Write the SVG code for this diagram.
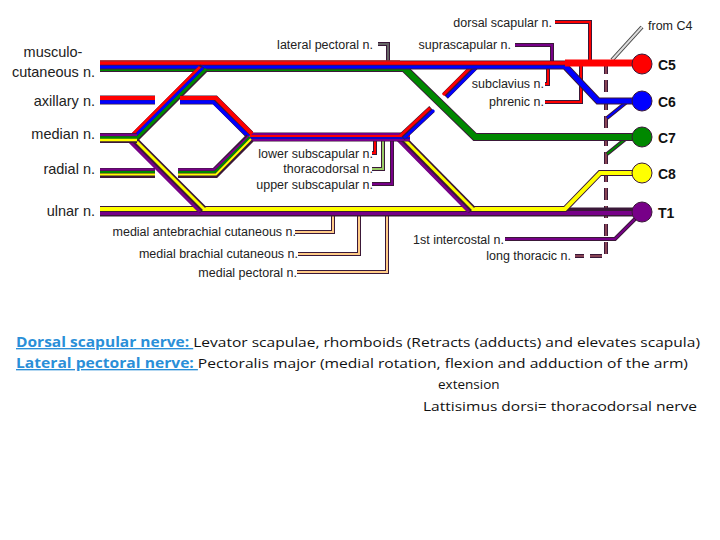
<svg xmlns="http://www.w3.org/2000/svg" width="720" height="540" viewBox="0 0 720 540">
<style>
.o{fill:none;stroke:#3a1838;stroke-linejoin:miter}
.s{fill:none;stroke-linejoin:miter}
.r{stroke:#f00}.b{stroke:#00f}.g{stroke:#080}.y{stroke:#ff0}.p{stroke:#708}
text{font-family:"Liberation Sans",Arial,sans-serif;fill:#222}
.lab{font-size:14.5px}
.sm{font-size:12.5px}
.root{font-size:14px;font-weight:bold;fill:#111}
.bt{font-family:"Open Sans","Liberation Sans",sans-serif;font-size:13.5px;fill:#111}
.bl{fill:#2a8fd8;font-weight:bold;text-decoration:underline}
</style>
<rect width="720" height="540" fill="#fff"/>
<g id="connectors">
<g stroke-width="4">
<path class="o" d="M590,62 V22 H555"/><path class="s r" stroke-width="2" d="M590,62 V22 H555"/>
<path class="o" d="M552,66 V45 H515"/><path class="s p" stroke-width="2" d="M552,66 V45 H515"/>
<path class="o" d="M548,66 V84 H545"/><path class="s r" stroke-width="2" d="M548,66 V84 H545"/>
<path class="o" d="M581,66 V102 H545"/><path class="s r" stroke-width="2" d="M581,66 V102 H545"/>
<path class="o" d="M388,62 V44 H378" stroke="#555"/><path class="s" stroke="#666" stroke-width="2" d="M388,62 V44 H378"/>
<path class="o" d="M375,140 V153 H372"/><path class="s r" stroke-width="2" d="M375,140 V153 H372"/>
<path class="o" d="M383,140 V169 H372"/><path class="s" stroke="#9c6" stroke-width="2" d="M383,140 V169 H372"/>
<path class="o" d="M392,140 V184 H372"/><path class="s p" stroke-width="2" d="M392,140 V184 H372"/>
<path class="o" d="M333,212 V232 H295"/><path class="s" stroke="#fc8" stroke-width="2" d="M333,212 V232 H295"/>
<path class="o" d="M359,212 V254 H298"/><path class="s" stroke="#fc8" stroke-width="2" d="M359,212 V254 H298"/>
<path class="o" d="M387,212 V272 H297"/><path class="s" stroke="#fc8" stroke-width="2" d="M387,212 V272 H297"/>
<path class="o" d="M642,212 L615,239 H505"/><path class="s p" stroke-width="2" d="M642,212 L615,239 H505"/>
<path class="o" d="M606,62 V256 H575" stroke-dasharray="12,6"/><path class="s" stroke="#845" stroke-width="2" d="M606,62 V256 H575" stroke-dasharray="12,6"/>
<path class="o" d="M628,101 L607,118"/><path class="s b" stroke-width="2" d="M628,101 L607,118"/>
<path class="o" d="M628,137 L607,154"/><path class="s g" stroke-width="2" d="M628,137 L607,154"/>
<path d="M612,60 L642,27" stroke="#444" stroke-width="4" fill="none"/><path d="M612,60 L642,27" stroke="#ddd" stroke-width="2" fill="none"/>
</g>
<path class="o" stroke-width="9" d="M640,212 H100"/>
<path class="s p" stroke-width="4" d="M640,213 H100"/>
<path class="o" stroke-width="6" d="M640,173 H600 L565,209 H100"/>
<path class="s y" stroke-width="4" d="M640,173 H600 L565,209 H100"/>
<path class="o" stroke-width="9" d="M400,137 L472,210"/>
<path class="s p" stroke-width="3" d="M397,139 L469,212"/><path class="s y" stroke-width="3" d="M402,137 L474,210"/>
<path class="o" stroke-width="9" d="M132,139 L203,210"/>
<path class="s p" stroke-width="3" d="M129,141 L200,212"/><path class="s y" stroke-width="3" d="M134,139 L205,210"/>
<path class="o" stroke-width="8" d="M640,137 H475 L404,68 H100"/>
<path class="s g" stroke-width="6" d="M640,137 H475 L404,68 H100"/>
<path class="o" stroke-width="9" d="M250,137 H410"/>
<path class="s p" stroke-width="2" d="M250,134 H410"/><path class="s r" stroke-width="2" d="M250,136 H410"/><path class="s b" stroke-width="1.5" d="M250,138 H410"/><path class="s p" stroke-width="2" d="M250,140 H410"/>
<path class="o" stroke-width="8" d="M475,66 L445,96 M432,109 L402,137"/>
<path class="s r" stroke-width="3" d="M473,65 L443,95 M430,108 L400,136"/>
<path class="s b" stroke-width="3" d="M477,67 L447,97 M434,110 L404,138"/>
<path class="o" stroke-width="7" d="M640,101 H598 L565,66 H100"/>
<path class="s b" stroke-width="5" d="M640,101 H598 L565,66 H100"/>
<path class="o" stroke-width="5" d="M640,63 H100"/>
<path class="s r" stroke-width="3.5" d="M640,63 H100"/>
<path class="s r" stroke-width="7" d="M565,63 H640"/>
<path class="s" stroke="#b22" stroke-width="1.5" d="M100,61 H400"/>
<path class="o" stroke-width="10" d="M204,68 L134,138"/>
<path class="s r" stroke-width="3" d="M200,67 L130,137"/><path class="s b" stroke-width="3" d="M203,68 L133,138"/><path class="s g" stroke-width="3" d="M206,69 L136,139"/>
<path class="o" stroke-width="10" d="M100,138 H137"/>
<path class="s p" stroke-width="2.5" d="M100,135 H137"/><path class="s g" stroke-width="2.5" d="M100,137.5 H137"/><path class="s y" stroke-width="2.5" d="M100,140 H137"/>
<path class="o" stroke-width="9" d="M100,100 H155 M180,100 H215 L250,135"/>
<path class="s r" stroke-width="4" d="M100,98 H155 M180,98 H216 L252,134"/>
<path class="s b" stroke-width="3.5" d="M100,102 H155 M180,102 H213 L249,137"/>
<path class="o" stroke-width="10" d="M100,173 H155 M178,173 H215 L250,138"/>
<path class="s p" stroke-width="2" d="M100,169.5 H155 M178,169.5 H214 L249,136"/>
<path class="s g" stroke-width="2" d="M100,172 H155 M178,172 H215 L250,137"/>
<path class="s y" stroke-width="2" d="M100,174.5 H155 M178,174.5 H216 L251,139"/>
</g>
<g id="C5"><circle cx="642" cy="64" r="10" fill="#f00" stroke="#3a1838"/><text class="root" x="658" y="70">C5</text></g>
<g id="C6"><circle cx="642" cy="101" r="10" fill="#00f" stroke="#3a1838"/><text class="root" x="658" y="107">C6</text></g>
<g id="C7"><circle cx="642" cy="137" r="10" fill="#080" stroke="#3a1838"/><text class="root" x="658" y="143">C7</text></g>
<g id="C8"><circle cx="642" cy="173" r="10" fill="#ff0" stroke="#3a1838"/><text class="root" x="658" y="179">C8</text></g>
<g id="T1"><circle cx="642" cy="212" r="10" fill="#708" stroke="#3a1838"/><text class="root" x="658" y="218">T1</text></g>
<g id="labels">
<text class="lab" x="53" y="57" text-anchor="middle">musculo-</text>
<text class="lab" x="95" y="77" text-anchor="end">cutaneous n.</text>
<text class="lab" x="95" y="106" text-anchor="end">axillary n.</text>
<text class="lab" x="95" y="139" text-anchor="end">median n.</text>
<text class="lab" x="95" y="174" text-anchor="end">radial n.</text>
<text class="lab" x="95" y="216" text-anchor="end">ulnar n.</text>
<text class="sm" x="373" y="49" text-anchor="end">lateral pectoral n.</text>
<text class="sm" x="552" y="27" text-anchor="end">dorsal scapular n.</text>
<text class="sm" x="511" y="49" text-anchor="end">suprascapular n.</text>
<text class="sm" x="544" y="88" text-anchor="end">subclavius n.</text>
<text class="sm" x="544" y="106" text-anchor="end">phrenic n.</text>
<text class="sm" x="648" y="30">from C4</text>
<text class="sm" x="373" y="158" text-anchor="end">lower subscapular n.</text>
<text class="sm" x="373" y="173" text-anchor="end">thoracodorsal n.</text>
<text class="sm" x="373" y="189" text-anchor="end">upper subscapular n.</text>
<text class="sm" x="296" y="236" text-anchor="end">medial antebrachial cutaneous n.</text>
<text class="sm" x="298" y="258" text-anchor="end">medial brachial cutaneous n.</text>
<text class="sm" x="297" y="277" text-anchor="end">medial pectoral n.</text>
<text class="sm" x="504" y="244" text-anchor="end">1st intercostal n.</text>
<text class="sm" x="571" y="260" text-anchor="end">long thoracic n.</text>
</g>
<g id="notes">
<text class="bt" x="16" y="347" textLength="684" lengthAdjust="spacingAndGlyphs"><tspan class="bl">Dorsal scapular nerve: </tspan>Levator scapulae, rhomboids (Retracts (adducts) and elevates scapula)</text>
<text class="bt" x="16" y="368" textLength="672" lengthAdjust="spacingAndGlyphs"><tspan class="bl">Lateral pectoral nerve: </tspan> Pectoralis major (medial rotation, flexion and adduction of the arm)</text>
<text class="bt" x="438" y="389">extension</text>
<text class="bt" x="423" y="411" textLength="274" lengthAdjust="spacingAndGlyphs">Lattisimus dorsi= thoracodorsal nerve</text>
</g>
</svg>
